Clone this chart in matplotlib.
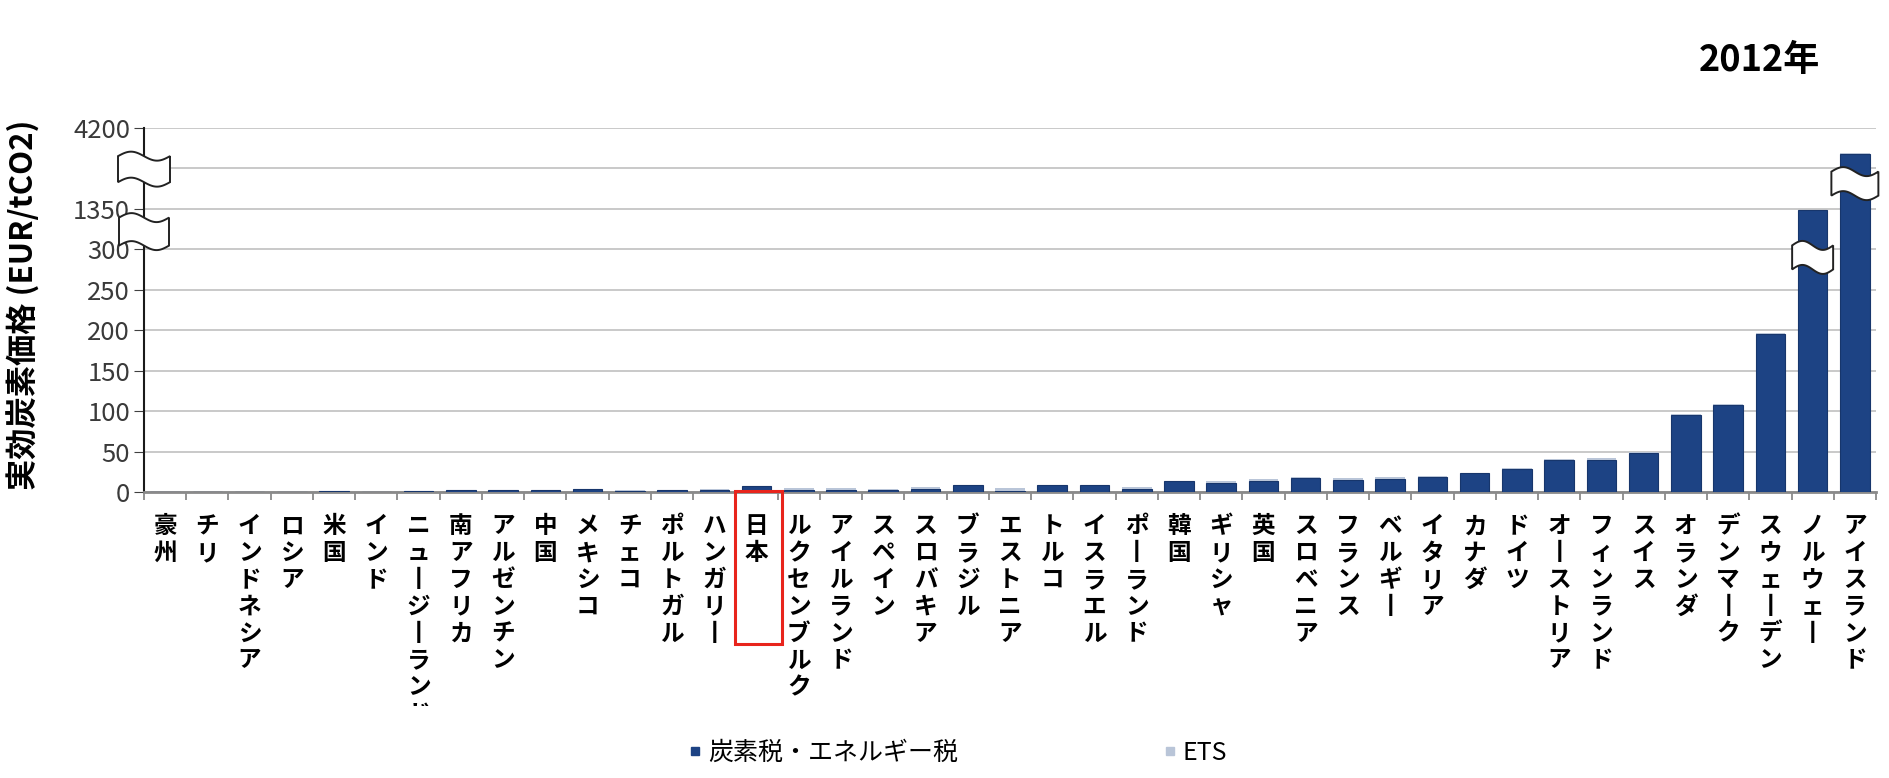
import numpy as np
import matplotlib
matplotlib.use('Agg')
import matplotlib.pyplot as plt
from matplotlib.patches import Polygon, Rectangle
from matplotlib.lines import Line2D
from matplotlib import transforms

plt.rcParams['font.family'] = ['Noto Sans CJK JP', 'DejaVu Sans']

countries = ['豪州', 'チリ', 'インドネシア', 'ロシア', '米国', 'インド', 'ニュージーランド',
             '南アフリカ', 'アルゼンチン', '中国', 'メキシコ', 'チェコ', 'ポルトガル', 'ハンガリー',
             '日本', 'ルクセンブルク', 'アイルランド', 'スペイン', 'スロバキア', 'ブラジル',
             'エストニア', 'トルコ', 'イスラエル', 'ポーランド', '韓国', 'ギリシャ', '英国',
             'スロベニア', 'フランス', 'ベルギー', 'イタリア', 'カナダ', 'ドイツ', 'オーストリア',
             'フィンランド', 'スイス', 'オランダ', 'デンマーク', 'スウェーデン', 'ノルウェー',
             'アイスランド']
tax = [0.3, 0.5, 0.3, 0.5, 0.8, 0.6, 1.0, 2.5, 3.0, 3.0, 4.0, 1.5, 2.0, 2.0, 8.0, 3.0,
       2.5, 2.0, 4.0, 9.0, 1.5, 9.0, 9.0, 3.5, 13.0, 11.0, 14.0, 17.0, 15.0, 16.0, 18.0,
       23.0, 28.0, 39.0, 40.0, 48.0, 95.0, 107.0, 195.0, 1330.0, 3300.0]
ets = [0, 0, 0, 0, 0, 0, 0.5, 0, 0, 0, 0, 1.5, 1.0, 1.5, 0, 2.0, 2.0, 2.0, 2.0, 0,
       3.0, 0, 0, 2.5, 0, 2.0, 2.0, 2.0, 2.0, 2.0, 2.0, 0, 2.0, 2.0, 2.0, 1.0, 2.0, 2.0,
       1.0, 2.0, 2.0]
y_ticks = [0, 50, 100, 150, 200, 250, 300, 1350, 2775, 4200]
y_tick_labels = ['0', '50', '100', '150', '200', '250', '300', '1350', '', '4200']

# broken axis: 0-300 linear, then two compressed segments above
seg_vals = [-1e6, 0, 300, 1350, 4200, 1e6]
seg_pos = [-2e4, 0, 6, 7, 9, 9 + (1e6 - 4200) / 1425]


def fwd(v):
    return np.interp(v, seg_vals, seg_pos)


def inv(p):
    return np.interp(p, seg_pos, seg_vals)


W, H, DPI = 18.89, 7.78, 100
fig = plt.figure(figsize=(W, H), dpi=DPI)
ax = fig.add_axes([144 / 1889, 1 - 492 / 778, (1876 - 144) / 1889, (492 - 128) / 778])
ax.set_yscale('function', functions=(fwd, inv))

x = np.arange(len(countries))
tax_color = '#1d4384'
ets_color = '#b9c5d8'
ax.bar(x, tax, width=0.7, color=tax_color, edgecolor='#17366c', linewidth=0.8, zorder=3)
ax.bar(x, ets, width=0.7, bottom=tax, color=ets_color, linewidth=0, zorder=3)

ax.set_xlim(-0.5, len(countries) - 0.5)
ax.set_ylim(0, 4200)
ax.set_yticks(y_ticks)
ax.set_yticklabels(y_tick_labels)
ax.yaxis.set_minor_locator(matplotlib.ticker.NullLocator())
ax.grid(axis='y', color='#c9c9c9', linewidth=1.4)
ax.set_axisbelow(True)

# vertical (top-to-bottom) category names
vert_labels = ['\n'.join(c.replace('ー', '丨')) for c in countries]
ax.set_xticks(x)
ax.set_xticklabels(vert_labels, fontsize=17, fontweight='bold', va='top', ha='center')
for lbl in ax.get_xticklabels():
    lbl.set_linespacing(1.15)
ax.set_xticks(np.arange(-0.5, len(countries), 1), minor=True)
ax.tick_params(axis='x', which='major', length=0, pad=16)
ax.tick_params(axis='x', which='minor', length=6, color='#808080', width=1.2)
ax.tick_params(axis='y', which='both', length=7, color='#404040', labelsize=18.5,
               labelcolor='#3a3a3a', pad=3)

for s in ['top', 'right']:
    ax.spines[s].set_visible(False)
ax.spines['left'].set_color('#1a1a1a')
ax.spines['left'].set_linewidth(1.5)
ax.spines['bottom'].set_color('#8a8a8a')
ax.spines['bottom'].set_linewidth(2)

# clip long names at the lower edge of the label area
clip = transforms.Bbox([[0, 778 - 706], [1889, 778]])
for lbl in ax.get_xticklabels():
    lbl.set_clip_box(clip)
    lbl.set_clip_on(True)


def wavy_break(xc, yc, w, h, amp=4.5):
    t = np.linspace(0, 1, 50)
    xs = (t - 0.5) * w
    wave = amp * np.sin(2 * np.pi * t)
    verts = np.concatenate([np.column_stack([xs, -h / 2 + wave]),
                            np.column_stack([xs[::-1], (h / 2 + wave)[::-1]])]) / DPI
    trans = fig.dpi_scale_trans + transforms.ScaledTranslation(xc, yc, ax.transData)
    ax.add_patch(Polygon(verts, closed=True, facecolor='white', edgecolor='#222222',
                         linewidth=1.4, transform=trans, clip_on=False, zorder=6))


wavy_break(-0.5, 2750, 52, 26)
wavy_break(-0.5, 760, 50, 28)
wavy_break(39, 290, 41, 24)
wavy_break(40, 2240, 47, 24)

# highlight Japan
jp = countries.index('日本')
box_trans = transforms.blended_transform_factory(ax.transData, fig.transFigure)
ax.add_patch(Rectangle((jp - 0.5, 1 - 644 / 778), 1.1, (644 - 491) / 778, fill=False,
                       edgecolor='#e8241c', linewidth=2.2, transform=box_trans,
                       clip_on=False, zorder=7))

fig.text(0.0125, 1 - 305 / 778, '実効炭素価格 (EUR/tCO2)', rotation=90, ha='center',
         va='center', fontsize=22.5, fontweight='bold')
fig.text(0.9635, 1 - 60 / 778, '2012年', ha='right', va='center', fontsize=26,
         fontweight='bold')

handles = [Line2D([], [], marker='s', linestyle='none', color=tax_color, markersize=6),
           Line2D([], [], marker='s', linestyle='none', color=ets_color, markersize=6)]
fig.legend(handles, ['炭素税・エネルギー税', 'ETS'], loc='center',
           bbox_to_anchor=(0.507, 1 - 753 / 778), ncol=2, frameon=False,
           fontsize=18, handletextpad=0.2, columnspacing=8.2, handlelength=0.6)

fig.savefig('out.png', dpi=DPI)
